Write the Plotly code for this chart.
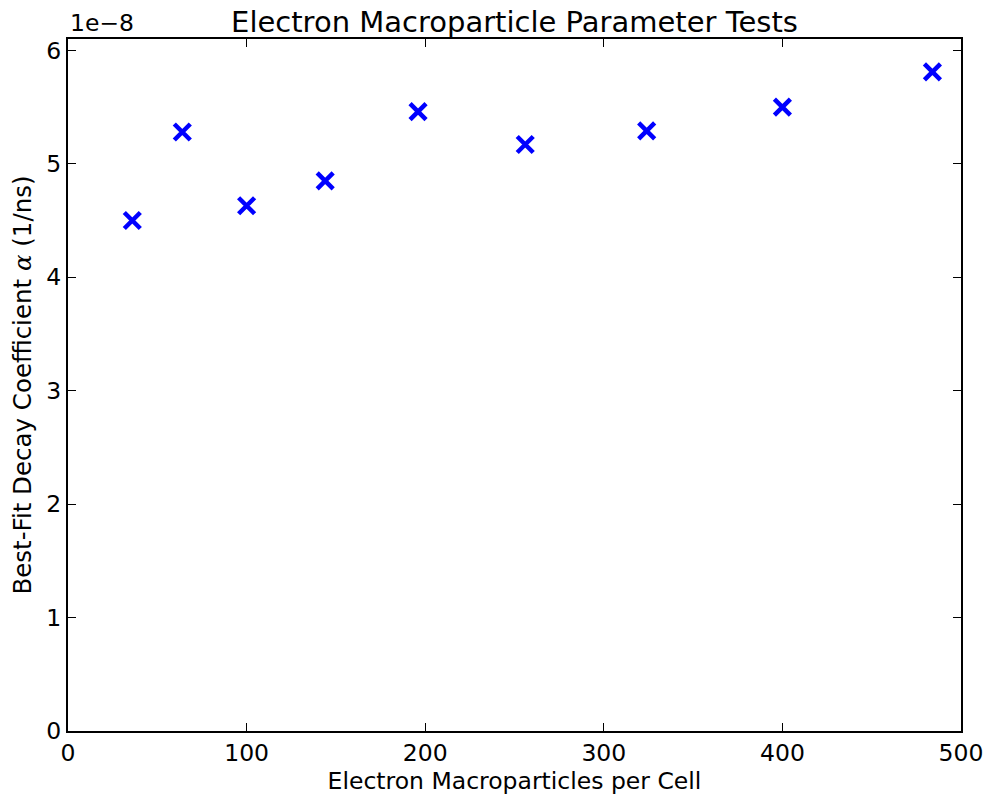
import plotly.graph_objects as go

# Data (alpha in units of 1e-8 1/ns)
particles_per_cell = [36, 64, 100, 144, 196, 256, 324, 400, 484]
decay_coeff_e8 = [4.50, 5.28, 4.63, 4.85, 5.46, 5.17, 5.29, 5.50, 5.81]
x_ticks = [0, 100, 200, 300, 400, 500]
y_ticks = [0, 1, 2, 3, 4, 5, 6]

FONT = "DejaVu Sans"
FS = 23.5

fig = go.Figure()
fig.add_trace(go.Scatter(
    x=particles_per_cell, y=decay_coeff_e8, mode="markers",
    marker=dict(symbol="x-thin", size=16, color="#0000ff",
                line=dict(color="#0000ff", width=4.5)),
    showlegend=False,
))

axis_common = dict(
    showgrid=False, zeroline=False, showline=True, linecolor="black",
    linewidth=2, mirror="ticks", ticks="inside", ticklen=8, tickwidth=1,
    tickcolor="black", tickfont=dict(family=FONT, size=FS, color="black"),
    automargin=False,
)

fig.update_layout(
    width=990, height=795,
    margin=dict(l=68, r=29, t=39, b=64),
    paper_bgcolor="white", plot_bgcolor="white",
    font=dict(family=FONT, color="black"),
    title=dict(text="Electron Macroparticle Parameter Tests",
               font=dict(family=FONT, size=29, color="black"),
               x=0.5, xanchor="center", xref="paper", y=1, yref="paper",
               yanchor="bottom", pad=dict(b=7), automargin=False),
    xaxis=dict(range=[0, 500], tickvals=x_ticks,
               title=dict(text="Electron Macroparticles per Cell",
                          font=dict(family=FONT, size=FS), standoff=0),
               **axis_common),
    yaxis=dict(range=[0, 6.1], tickvals=y_ticks,
               title=dict(text="Best-Fit Decay Coefficient <i style='font-family:DejaVu Serif'>α</i> (1/ns)",
                          font=dict(family=FONT, size=24.5), standoff=8),
               **axis_common),
)

fig.add_annotation(text="1e\u22128", xref="paper", yref="paper", x=0, y=1,
                   xanchor="left", yanchor="bottom", showarrow=False,
                   font=dict(family=FONT, size=FS, color="black"), yshift=0)

fig.write_html("out.html")
